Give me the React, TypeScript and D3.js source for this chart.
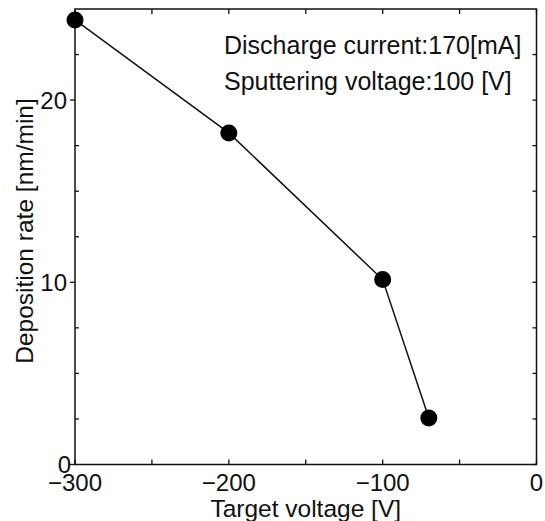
import React from "react";
import * as d3 from "d3";

const targetVoltage = [-300, -200, -100, -70];
const depositionRate = [24.4, 18.2, 10.15, 2.55];
const xMajorTicks = [-300, -200, -100, 0];
const xMinorTicks = [-250, -150, -50];
const yMajorTicks = [0, 10, 20];
const yMinorTicks = [2.5, 5, 7.5, 12.5, 15, 17.5, 22.5];
const annotations = ["Discharge current:170[mA]", "Sputtering voltage:100 [V]"];
const xTitle = "Target voltage [V]";
const yTitle = "Deposition rate [nm/min]";

export default function App() {
  const W = 545, H = 521;
  const left = 75, right = 536.5, top = 9, bottom = 464.5;
  const x = d3.scaleLinear().domain([-300, 0]).range([left, right]);
  const y = d3.scaleLinear().domain([0, 25]).range([bottom, top]);
  const fmt = (v: number) => d3.format("d")(v);
  const data = targetVoltage.map((v, i) => ({ v, r: depositionRate[i] }));
  const line = d3.line<{ v: number; r: number }>().x(d => x(d.v)).y(d => y(d.r));
  const font = "'Liberation Sans', Arial, sans-serif";
  const allY = [...yMajorTicks, ...yMinorTicks];
  const allX = [...xMajorTicks, ...xMinorTicks];
  const tl = 5;
  return (
    <svg width={W} height={H} style={{ position: "absolute", left: 0, top: 0, background: "#fff" }} fontFamily={font}>
      <rect x={0} y={0} width={W} height={H} fill="#fff" />
      <rect x={left} y={top} width={right - left} height={bottom - top} fill="none" stroke="#111" strokeWidth={1.5} />
      {allX.map(t => (
        <g key={"xt" + t}>
          <line x1={x(t)} x2={x(t)} y1={bottom} y2={bottom - tl} stroke="#111" strokeWidth={1.3} />
          <line x1={x(t)} x2={x(t)} y1={top} y2={top + tl} stroke="#111" strokeWidth={1.3} />
        </g>
      ))}
      {yMinorTicks.map(t => (
        <line key={"ymi" + t} x1={left} x2={left + 4} y1={y(t)} y2={y(t)} stroke="#111" strokeWidth={1.3} />
      ))}
      {yMajorTicks.map(t => (
        <line key={"yma" + t} x1={left - 5} x2={left} y1={y(t)} y2={y(t)} stroke="#111" strokeWidth={1.3} />
      ))}
      {allY.map(t => (
        <line key={"yr" + t} x1={right} x2={right - 4} y1={y(t)} y2={y(t)} stroke="#111" strokeWidth={1.3} />
      ))}
      {xMajorTicks.map(t => (
        <text key={"xl" + t} x={x(t)} y={491} fontSize={24} textAnchor="middle" fill="#111">{fmt(t)}</text>
      ))}
      {yMajorTicks.map(t => (
        <text key={"yl" + t} x={left - (t === 0 ? 4 : 8)} y={y(t)} dy="0.36em" fontSize={24} textAnchor="end" fill="#111">{fmt(t)}</text>
      ))}
      <path d={line(data) || ""} fill="none" stroke="#111" strokeWidth={1.5} />
      {data.map((d, i) => (
        <circle key={"p" + i} cx={x(d.v)} cy={y(d.r)} r={8.5} fill="#000" />
      ))}
      {annotations.map((a, i) => (
        <text key={"an" + i} x={224} y={53.5 + i * 36} fontSize={25} fill="#111">{a}</text>
      ))}
      <text x={(left + right) / 2} y={517} fontSize={24.5} textAnchor="middle" fill="#111">{xTitle}</text>
      <text transform={`translate(33, 231) rotate(-90)`} fontSize={24.5} textAnchor="middle" fill="#111">{yTitle}</text>
    </svg>
  );
}
